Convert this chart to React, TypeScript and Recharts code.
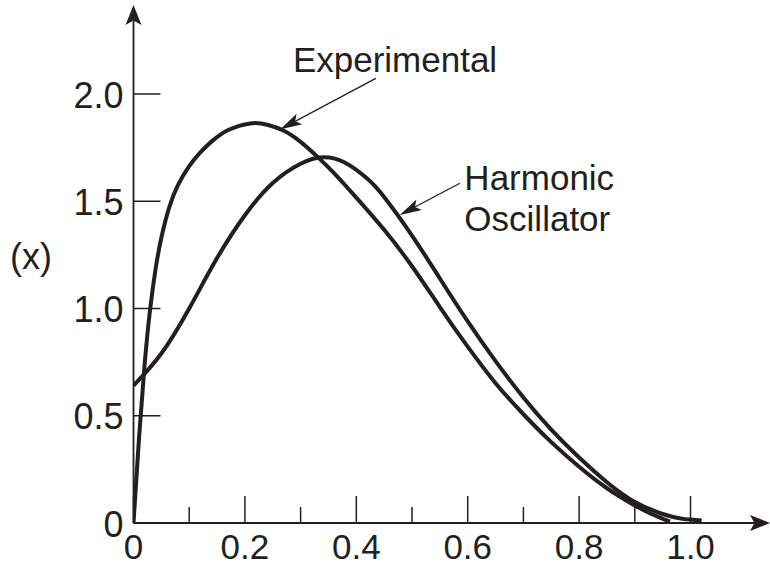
import React from 'react';
import { LineChart, Line, XAxis, YAxis, ReferenceLine, ReferenceDot } from 'recharts';

// ---- data ----
const experimentalX = [0, 0.01, 0.02, 0.03, 0.04, 0.05, 0.064, 0.08, 0.1, 0.12, 0.14, 0.17, 0.21, 0.24, 0.27, 0.3, 0.33, 0.36, 0.4, 0.45, 0.5, 0.55, 0.6, 0.65, 0.7, 0.75, 0.8, 0.85, 0.9, 0.93, 0.963];
const experimentalY = [0, 0.4, 0.74, 1.0, 1.19, 1.33, 1.47, 1.576, 1.664, 1.728, 1.778, 1.832, 1.863, 1.857, 1.829, 1.777, 1.708, 1.631, 1.517, 1.367, 1.197, 1.007, 0.822, 0.652, 0.507, 0.377, 0.262, 0.162, 0.082, 0.042, 0.006];

const harmonicX = [0, 0.05, 0.1, 0.15, 0.2, 0.25, 0.3, 0.34, 0.38, 0.42, 0.45, 0.5, 0.55, 0.6, 0.65, 0.7, 0.75, 0.8, 0.85, 0.9, 0.95, 0.985, 1.02];
const harmonicY = [0.64, 0.79, 1.0, 1.235, 1.435, 1.585, 1.675, 1.705, 1.68, 1.605, 1.52, 1.34, 1.14, 0.94, 0.755, 0.585, 0.435, 0.305, 0.19, 0.098, 0.042, 0.02, 0.012];

const xMajorTicks = [0, 0.2, 0.4, 0.6, 0.8, 1.0];
const xMinorTicks = [0.1, 0.3, 0.5, 0.7, 0.9];
const xTickLabels = ['0', '0.2', '0.4', '0.6', '0.8', '1.0'];
const yTicks = [0, 0.5, 1.0, 1.5, 2.0];
const yTickLabels = ['0', '0.5', '1.0', '1.5', '2.0'];

const X_MAX = 1.1427;
const Y_MAX = 2.415;

const experimentalData = experimentalX.map((x, i) => ({ x, y: experimentalY[i] }));
const harmonicData = harmonicX.map((x, i) => ({ x, y: harmonicY[i] }));
const xTicks = [...xMajorTicks, ...xMinorTicks].sort((a, b) => a - b);

// ---- styles ----
const INK = '#231f20';
const FONT = '"Liberation Sans", Arial, Helvetica, sans-serif';
const FS = 36;

function arrow(x1: number, y1: number, x2: number, y2: number, len: number, half: number, width: number) {
  const dx = x2 - x1;
  const dy = y2 - y1;
  const d = Math.hypot(dx, dy) || 1;
  const ux = dx / d;
  const uy = dy / d;
  const px = -uy;
  const py = ux;
  const bx = x2 - ux * len;
  const by = y2 - uy * len;
  const nx = x2 - ux * len * 0.78;
  const ny = y2 - uy * len * 0.78;
  const head = `M${x2},${y2} L${bx + px * half},${by + py * half} L${nx},${ny} L${bx - px * half},${by - py * half} Z`;
  return (
    <g>
      <line x1={x1} y1={y1} x2={nx} y2={ny} stroke={INK} strokeWidth={width} />
      <path d={head} fill={INK} stroke="none" />
    </g>
  );
}

const axisArrowShape = (p: any) => arrow(p.x1, p.y1, p.x2, p.y2, 20, 8, 1.8);
const noteArrowShape = (p: any) => arrow(p.x1, p.y1, p.x2, p.y2, 22, 6, 1.3);

const XTick = (props: any) => {
  const { x, y, payload } = props;
  const i = xMajorTicks.indexOf(payload.value);
  const major = i >= 0;
  return (
    <g>
      <line x1={x} y1={y} x2={x} y2={y - (major ? 27 : 16)} stroke={INK} strokeWidth={1.5} />
      {major && (
        <text x={x} y={y + 36} textAnchor="middle" fontFamily={FONT} fontSize={35} fill={INK}>
          {xTickLabels[i]}
        </text>
      )}
    </g>
  );
};

const YTick = (props: any) => {
  const { x, y, payload } = props;
  const i = yTicks.indexOf(payload.value);
  return (
    <g>
      <line x1={x} y1={y} x2={x + 27} y2={y} stroke={INK} strokeWidth={1.5} />
      <text x={x - 10} y={y + 13.5} textAnchor="end" fontFamily={FONT} fontSize={FS} fill={INK}>
        {yTickLabels[i]}
      </text>
    </g>
  );
};

const textShape = (label: string, anchor: 'start' | 'middle' | 'end') => (p: any) => (
  <text x={p.cx} y={p.cy} textAnchor={anchor} fontFamily={FONT} fontSize={35} fill={INK}>
    {label}
  </text>
);

export default function App() {
  return (
    <div style={{ position: 'absolute', left: 0, top: 0, width: 770, height: 567, background: '#fff' }}>
      <LineChart width={770} height={567} margin={{ top: 5, right: 0, bottom: 0, left: 0 }}>
        <XAxis
          type="number"
          dataKey="x"
          domain={[0, X_MAX]}
          allowDataOverflow
          ticks={xTicks}
          interval={0}
          tick={XTick}
          tickLine={false}
          axisLine={false}
          tickSize={0}
          tickMargin={0}
          height={44}
        />
        <YAxis
          type="number"
          dataKey="y"
          domain={[0, Y_MAX]}
          allowDataOverflow
          ticks={yTicks}
          interval={0}
          tick={YTick}
          tickLine={false}
          axisLine={false}
          tickSize={0}
          tickMargin={0}
          width={133.5}
          label={{
            value: '(x)',
            position: 'insideLeft',
            offset: 10,
            dy: -8,
            style: { fontFamily: FONT, fontSize: FS, fill: INK },
          }}
        />
        <ReferenceLine segment={[{ x: 0, y: 0 }, { x: X_MAX, y: 0 }]} ifOverflow="visible" shape={axisArrowShape} />
        <ReferenceLine segment={[{ x: 0, y: 0 }, { x: 0, y: Y_MAX }]} ifOverflow="visible" shape={axisArrowShape} />
        <ReferenceLine segment={[{ x: 0.435, y: 2.073 }, { x: 0.263, y: 1.835 }]} ifOverflow="visible" shape={noteArrowShape} />
        <ReferenceLine segment={[{ x: 0.586, y: 1.584 }, { x: 0.478, y: 1.436 }]} ifOverflow="visible" shape={noteArrowShape} />
        <ReferenceDot x={0.4695} y={2.104} r={0} ifOverflow="visible" shape={textShape('Experimental', 'middle')} />
        <ReferenceDot x={0.594} y={1.552} r={0} ifOverflow="visible" shape={textShape('Harmonic', 'start')} />
        <ReferenceDot x={0.594} y={1.361} r={0} ifOverflow="visible" shape={textShape('Oscillator', 'start')} />
        <Line
          data={harmonicData}
          dataKey="y"
          type="natural"
          stroke={INK}
          strokeWidth={4}
          dot={false}
          activeDot={false}
          isAnimationActive={false}
        />
        <Line
          data={experimentalData}
          dataKey="y"
          type="natural"
          stroke={INK}
          strokeWidth={4}
          dot={false}
          activeDot={false}
          isAnimationActive={false}
        />
      </LineChart>
    </div>
  );
}
